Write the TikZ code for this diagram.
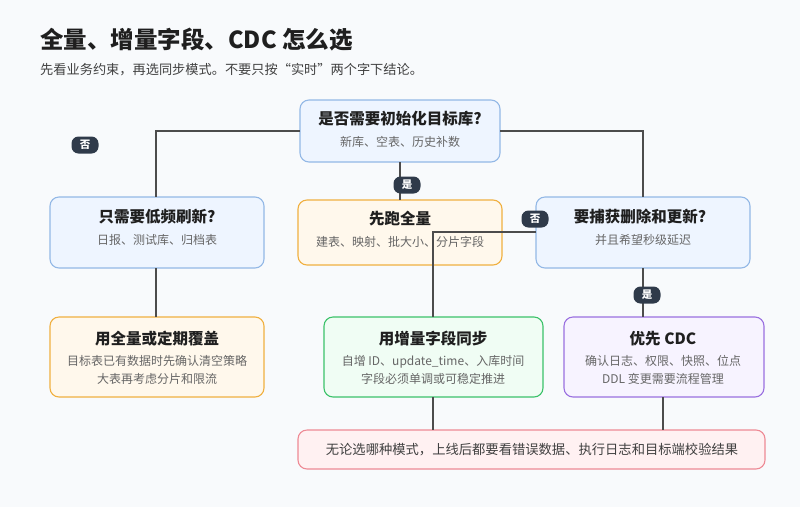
\documentclass[tikz,border=0pt]{standalone}
\usepackage{fontspec}
\setmainfont{Noto Sans CJK SC}
\begin{document}
\begin{tikzpicture}[x=1pt,y=-1pt,
 box/.style={draw,rounded corners=9pt,line width=1.1pt,align=center,inner sep=0pt},
 ttl/.style={font=\fontsize{15.5}{17}\selectfont\bfseries,text=black!88},
 sub/.style={font=\fontsize{12}{18}\selectfont,text=black!60,align=center},
 badge/.style={text=white,rounded corners=7pt,font=\fontsize{10.5}{10.5}\selectfont\bfseries,minimum width=27pt,minimum height=17pt,inner sep=0pt},
 ln/.style={draw=black!70,line width=1.6pt}]
\definecolor{bl}{HTML}{EEF5FF}\definecolor{blb}{HTML}{93B8E6}
\definecolor{or}{HTML}{FFF8EC}\definecolor{orb}{HTML}{F0B040}
\definecolor{gr}{HTML}{F0FDF4}\definecolor{grb}{HTML}{3CC26A}
\definecolor{pu}{HTML}{F7F3FF}\definecolor{pub}{HTML}{9A70E0}
\definecolor{rd}{HTML}{FFF1F2}\definecolor{rdb}{HTML}{EE8A95}
\definecolor{bd}{HTML}{2F3A4A}
\definecolor{bg}{HTML}{F8FAFC}
\tikzset{badge/.append style={fill=bd}}
\fill[bg] (0,0) rectangle (800,507);
\useasboundingbox (0,0) rectangle (800,507);
\node[anchor=west,font=\fontsize{23.5}{26}\selectfont\bfseries,text=black!88,inner sep=0pt] (title) at (40,40) {全量、增量字段、CDC 怎么选};
\node[anchor=west,font=\fontsize{13.2}{15}\selectfont,text=black!75,inner sep=0pt] (subt) at (40,70) {先看业务约束，再选同步模式。不要只按“实时”两个字下结论。};
\path[box,draw=blb,fill=bl] (300,100) rectangle (500,162);
\node[ttl] (q1) at (400,119) {是否需要初始化目标库?};
\node[sub] (q1s) at (400,142) {新库、空表、历史补数};
\path[box,draw=blb,fill=bl] (50,197) rectangle (264,268);
\node[ttl] (q2) at (157,217) {只需要低频刷新?};
\node[sub] (q2s) at (157,240) {日报、测试库、归档表};
\path[box,draw=orb,fill=or] (298,200) rectangle (502,265);
\node[ttl] (fr) at (400,219) {先跑全量};
\node[sub] (frs) at (400,242) {建表、映射、批大小、分片字段};
\path[box,draw=blb,fill=bl] (536,197) rectangle (750,268);
\node[ttl] (q3) at (640,217) {要捕获删除和更新?};
\node[sub] (q3s) at (643,240) {并且希望秒级延迟};
\path[box,draw=orb,fill=or] (50,317) rectangle (264,397);
\node[ttl] (a1) at (157,339) {用全量或定期覆盖};
\node[sub] (a1s) at (157,370) {目标表已有数据时先确认清空策略\\大表再考虑分片和限流};
\path[box,draw=grb,fill=gr] (324,317) rectangle (543,397);
\node[ttl] (a2) at (433,339) {用增量字段同步};
\node[sub] (a2s) at (433,370) {自增 ID、update\_time、入库时间\\字段必须单调或可稳定推进};
\path[box,draw=pub,fill=pu] (564,317) rectangle (764,397);
\node[ttl] (a3) at (663,339) {优先 CDC};
\node[sub] (a3s) at (663,370) {确认日志、权限、快照、位点\\DDL 变更需要流程管理};
\path[box,draw=rdb,fill=rd] (298,430) rectangle (765,469);
\node[font=\fontsize{13.3}{15}\selectfont,text=black!75] (fin) at (532,450) {无论选哪种模式，上线后都要看错误数据、执行日志和目标端校验结果};
\coordinate (c1) at (300,131); \coordinate (c2) at (156,131); \coordinate (c3) at (156,197);
\coordinate (c4) at (500,131); \coordinate (c5) at (643,131); \coordinate (c6) at (643,197);
\coordinate (c7) at (400,162); \coordinate (c8) at (400,200);
\coordinate (c9) at (536,232); \coordinate (c10) at (433,232); \coordinate (c11) at (433,317);
\coordinate (c12) at (156,268); \coordinate (c13) at (156,317);
\coordinate (c14) at (643,268); \coordinate (c15) at (643,317);
\coordinate (c16) at (433,397); \coordinate (c17) at (433,430);
\coordinate (c18) at (663,397); \coordinate (c19) at (663,430);
\draw[ln] (c1) -- (c2) -- (c3);
\draw[ln] (c4) -- (c5) -- (c6);
\draw[ln] (c7) -- (c8);
\draw[ln] (c9) -- (c10) -- (c11);
\draw[ln] (c12) -- (c13);
\draw[ln] (c14) -- (c15);
\draw[ln] (c16) -- (c17);
\draw[ln] (c18) -- (c19);
\node[badge] (b1) at (85,145) {否};
\node[badge] (b2) at (407,185) {是};
\node[badge] (b3) at (535,219) {否};
\node[badge] (b4) at (647,295) {是};
\end{tikzpicture}
\end{document}
